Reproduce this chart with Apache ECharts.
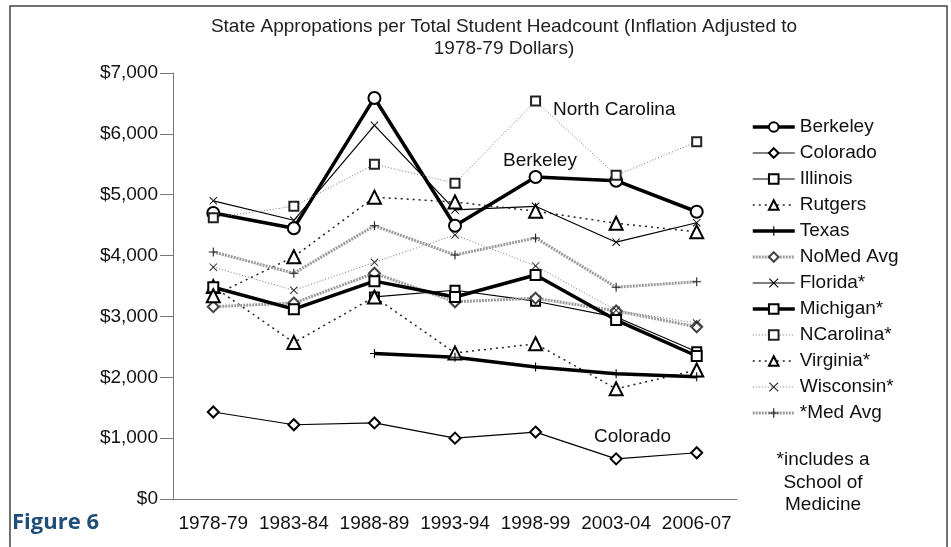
<!DOCTYPE html>
<html>
<head>
<meta charset="utf-8">
<title>Figure 6</title>
<script src="https://cdn.jsdelivr.net/npm/echarts@6/dist/echarts.min.js"></script>
<style>
  html, body { margin: 0; padding: 0; background: #fff; }
  #chart { width: 951px; height: 547px; }
</style>
</head>
<body>
<div id="chart"></div>
<script>
// data (1978-79 dollars)
var years = ['1978-79', '1983-84', '1988-89', '1993-94', '1998-99', '2003-04', '2006-07'];
var yTicks = [0, 1000, 2000, 3000, 4000, 5000, 6000, 7000];

var berkeley  = [4700, 4450, 6590, 4490, 5290, 5230, 4720];
var colorado  = [1430, 1220, 1250, 1000, 1100, 660, 760];
var illinois  = ['-', '-', 3320, 3430, 3250, 2990, 2420];
var rutgers   = [3490, 2570, 3320, 2400, 2550, 1810, 2120];
var texas     = ['-', '-', 2390, 2330, 2170, 2060, 2010];
var noMedAvg  = [3160, 3220, 3710, 3240, 3300, 3090, 2830];
var florida   = [4900, 4580, 6140, 4750, 4810, 4220, 4540];
var michigan  = [3480, 3120, 3580, 3320, 3680, 2940, 2350];
var ncarolina = [4620, 4810, 5500, 5190, 6540, 5320, 5870];
var virginia  = [3340, 3980, 4960, 4880, 4730, 4530, 4390];
var wisconsin = [3810, 3430, 3890, 4340, 3830, 3100, 2890];
var medAvg    = [4060, 3710, 4490, 4010, 4290, 3480, 3570];

var PLUS = 'path://M0,4.4H10V5.6H0Z M4.4,0H5.6V10H4.4Z';
var CROSS = 'path://M0,0.8L0.8,0L10,9.2L9.2,10Z M9.2,0L10,0.8L0.8,10L0,9.2Z';

var FONT = 'Liberation Sans, Arial, sans-serif';

var chart = echarts.init(document.getElementById('chart'));

function line(name, data, opt) {
  return {
    name: name,
    type: 'line',
    data: data,
    symbol: opt.symbol,
    symbolSize: opt.size,
    showAllSymbol: true,
    animation: false,
    itemStyle: { color: opt.mark || '#000', borderColor: opt.mark || '#000', borderWidth: opt.bw === undefined ? 1.2 : opt.bw },
    lineStyle: { color: opt.color || '#000', width: opt.width || 1.2, type: opt.type || 'solid' },
    emphasis: { disabled: true }
  };
}

var series = [
  line('Berkeley', berkeley, { symbol: 'emptyCircle', size: 12, width: 3.5, bw: 1.5 }),
  line('Colorado', colorado, { symbol: 'emptyDiamond', size: 11 }),
  line('Illinois', illinois, { symbol: 'emptyRect', size: 9 }),
  line('Rutgers', rutgers, { symbol: 'emptyTriangle', size: 13, color: '#222', width: 1.5, type: [2, 4] }),
  line('Texas', texas, { symbol: PLUS, size: 9, width: 3.5, bw: 0 }),
  line('NoMed Avg', noMedAvg, { symbol: 'emptyDiamond', size: 11, color: '#9c9c9c', width: 3, type: [2, 1], mark: '#444' }),
  line('Florida*', florida, { symbol: CROSS, size: 8, bw: 0 }),
  line('Michigan*', michigan, { symbol: 'emptyRect', size: 10, width: 3.5 }),
  line('NCarolina*', ncarolina, { symbol: 'emptyRect', size: 9, color: '#777', width: 1, type: [1, 2], mark: '#222' }),
  line('Virginia*', virginia, { symbol: 'emptyTriangle', size: 13, color: '#222', width: 1.5, type: [2, 4] }),
  line('Wisconsin*', wisconsin, { symbol: CROSS, size: 8, color: '#777', width: 1, type: [1, 2], mark: '#222', bw: 0 }),
  line('*Med Avg', medAvg, { symbol: PLUS, size: 9, color: '#9c9c9c', width: 3, type: [2, 1], mark: '#222', bw: 0 })
];

function note(text, x, y) {
  return {
    type: 'text', x: x, y: y, silent: true,
    style: { text: text, font: '19px ' + FONT, fill: '#111', align: 'left', verticalAlign: 'middle' }
  };
}

chart.setOption({
  backgroundColor: '#fff',
  textStyle: { fontFamily: FONT },
  title: {
    text: 'State Appropations per Total Student Headcount (Inflation Adjusted to\n1978-79 Dollars)',
    left: 499,
    top: 11,
    textAlign: 'center',
    textStyle: { fontSize: 19, fontWeight: 'normal', color: '#222', lineHeight: 22, align: 'center' }
  },
  grid: { left: 173, right: 214, top: 73, bottom: 48 },
  legend: {
    orient: 'vertical',
    left: 746,
    top: 112,
    itemWidth: 42,
    itemHeight: 12,
    itemGap: 6,
    lineStyle: { width: 'inherit' },
    textStyle: { fontSize: 19, color: '#111', lineHeight: 20 },
    data: series.map(function (s) { return s.name; })
  },
  xAxis: {
    type: 'category',
    data: years,
    boundaryGap: true,
    axisLine: { lineStyle: { color: '#777', width: 1 } },
    axisTick: { length: 10, lineStyle: { color: '#777' } },
    axisLabel: { fontSize: 19, color: '#111', margin: 15, interval: 0 }
  },
  yAxis: {
    type: 'value',
    min: yTicks[0],
    max: yTicks[yTicks.length - 1],
    interval: 1000,
    axisLine: { show: true, lineStyle: { color: '#777', width: 1 } },
    axisTick: { show: true, inside: false, length: 13, lineStyle: { color: '#777' } },
    axisLabel: {
      fontSize: 19, color: '#111', margin: 15,
      formatter: function (v) { return '$' + v.toLocaleString('en-US'); }
    },
    splitLine: { show: false }
  },
  graphic: [
    { type: 'rect', shape: { x: 10, y: 6, width: 937, height: 560 }, style: { fill: 'none', stroke: '#444', lineWidth: 1.5 }, silent: true },
    { type: 'text', x: 12, y: 523, silent: true, style: { text: 'Figure 6', font: 'bold 22px "Open Sans", sans-serif', fill: '#1f4e79', verticalAlign: 'middle' } },
    note('North Carolina', 553, 110),
    note('Berkeley', 503, 161),
    note('Colorado', 594, 437),
    { type: 'text', x: 823, y: 449, silent: true, style: { text: '*includes a\nSchool of\nMedicine', font: '19px ' + FONT, fill: '#111', align: 'center', lineHeight: 22.5 } }
  ],
  series: series
});
</script>
</body>
</html>
